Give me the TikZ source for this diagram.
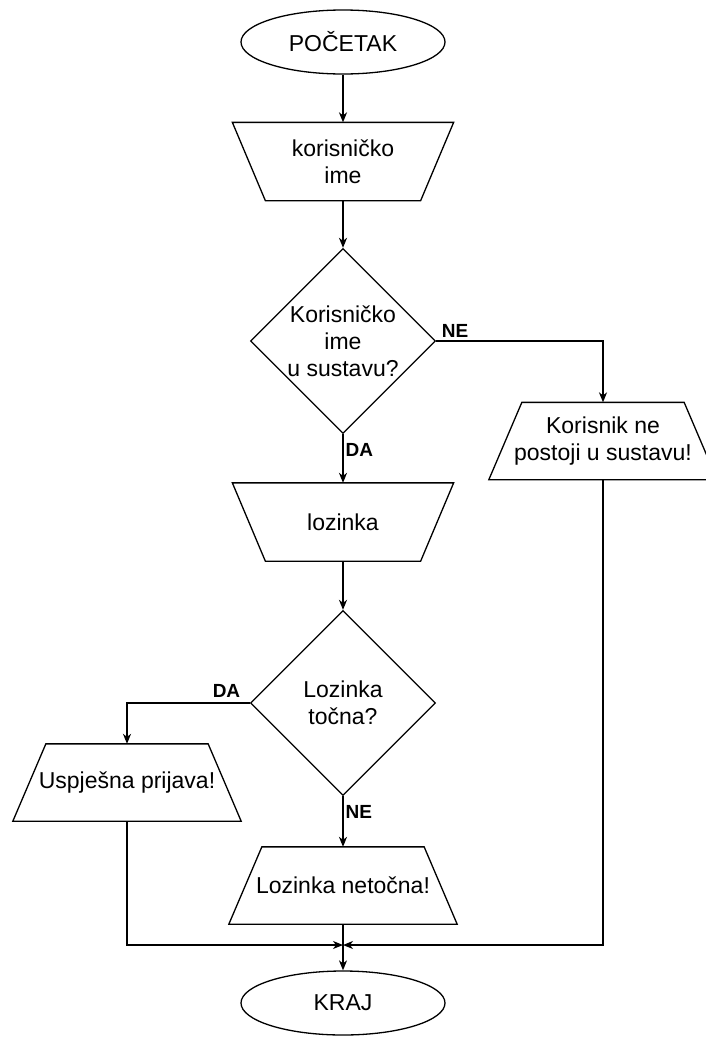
\documentclass[tikz,border=0pt]{standalone}
\usepackage{fontspec}
\setmainfont{Liberation Sans}
\usetikzlibrary{shapes.geometric, arrows.meta}

\begin{document}
\begin{tikzpicture}[x=1pt, y=-1pt,
	every node/.style={font=\fontsize{23}{27}\selectfont, align=center, line width=1.3pt},
	terminal/.style={draw, ellipse, minimum width=204pt, minimum height=64pt, inner sep=0pt},
	inbox/.style={minimum width=220pt, minimum height=77pt, inner sep=0pt},
	outbox/.style={minimum width=227pt, minimum height=76pt, inner sep=0pt},
	decision/.style={draw, diamond, minimum width=185pt, minimum height=185pt, inner sep=0pt},
	answer/.style={font=\fontsize{19}{22}\selectfont\bfseries, inner sep=1pt},
	outline/.style={line width=1.3pt, line join=miter},
	flow/.style={-{Stealth[length=10pt, width=8pt, inset=3pt]}, line width=1.3pt}
]
			% page
			\fill[white] (0,0) rectangle (706,1037);
			\useasboundingbox (0,0) rectangle (706,1037);
			% main column
			\node[terminal] (start) at (343,42) {POČETAK};
			\node[inbox] (user) at (343,161.5) {korisničko\\ime};
			\node[decision] (chk1) at (343,341) {Korisničko\\ime\\u sustavu?};
			\node[inbox] (pass) at (343,522) {lozinka};
			\node[decision] (chk2) at (343,703) {Lozinka\\točna?};
			\node[outbox] (wrong) at (343,885.5) {Lozinka netočna!};
			\node[terminal] (end) at (343,1003) {KRAJ};
			% side boxes
			\node[outbox] (nouser) at (603,441) {Korisnik ne\\postoji u sustavu!};
			\node[outbox] (ok) at (127,782.5) {Uspješna prijava!};
			\coordinate (join) at (343,945);
			% trapezoids
			\foreach \n in {user, pass}
				\draw[outline] (\n.north west) -- (\n.north east) -- ([xshift=-33pt]\n.south east) -- ([xshift=33pt]\n.south west) -- cycle;
			\foreach \n in {nouser, ok, wrong}
				\draw[outline] ([xshift=33pt]\n.north west) -- ([xshift=-33pt]\n.north east) -- (\n.south east) -- (\n.south west) -- cycle;
			% answers
			\node[answer, anchor=south west] (ne1) at ([xshift=4pt, yshift=2pt]chk1.east) {NE};
			\node[answer, anchor=north west] (da1) at ([xshift=1pt, yshift=-8pt]chk1.south) {DA};
			\node[answer, anchor=south east] (da2) at ([xshift=-8pt, yshift=4pt]chk2.west) {DA};
			\node[answer, anchor=north west] (ne2) at ([xshift=1pt, yshift=-8pt]chk2.south) {NE};
			% arrows
			\draw[flow] (start) -- (user);
			\draw[flow] (user) -- (chk1);
			\draw[flow] (chk1) -- (pass);
			\draw[flow] (chk1.east) -| (nouser);
			\draw[flow] (pass) -- (chk2);
			\draw[flow] (chk2.west) -| (ok);
			\draw[flow] (chk2) -- (wrong);
			\draw[flow] (wrong) -- (end);
			\draw[flow] (ok) |- (join);
			\draw[flow] (nouser) |- (join);
\end{tikzpicture}
\end{document}
